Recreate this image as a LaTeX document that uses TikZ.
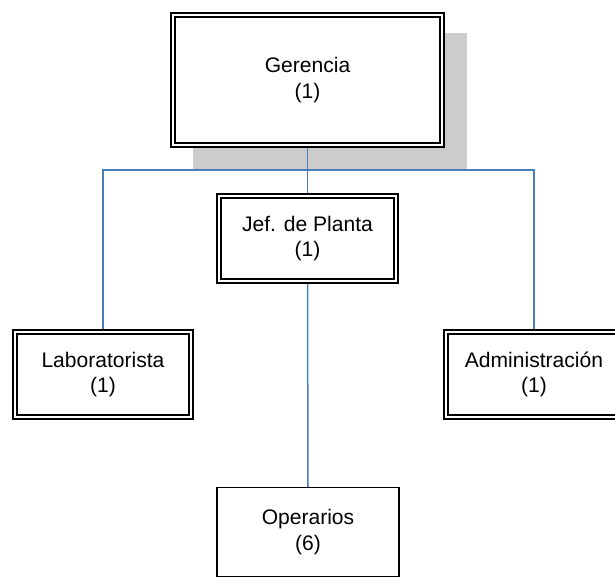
\documentclass[tikz,border=0pt]{standalone}
\usepackage{fontspec}
\setmainfont{Liberation Sans}
\begin{document}
\begin{tikzpicture}[x=0.75pt,y=-0.75pt]
    \definecolor{linkblue}{HTML}{4A7EBB}
    \definecolor{shadegray}{HTML}{CCCCCC}
    \def\px{0.75pt}
    \tikzset{
      post/.style={draw, fill=white, line width=2*\px, align=center, inner sep=0pt,
        font=\fontsize{15.8}{19}\selectfont, minimum width=#1*\px, minimum height=89*\px},
      link/.style={draw=linkblue, line width=1.5*\px}}
    \useasboundingbox (0,0) rectangle (615,576);
    \fill[shadegray] (193,33) rectangle (467,169);
    \node[post=273, minimum height=134*\px] (ger) at (307.5,80) {Gerencia\\(1)};
    \node[post=181] (jef) at (307.5,238.5) {Jef. de Planta\\(1)};
    \node[post=180] (lab) at (103,374.5) {Laboratorista\\(1)};
    \node[post=180] (adm) at (534,374.5) {Administración\\(1)};
    \node[post=182, line width=1.5*\px] (ope) at (308,532) {Operarios\\(6)};
    \foreach \n in {ger,jef,lab,adm}
      \draw[line width=1.2*\px] ([shift={(5,5)}]\n.north west) rectangle ([shift={(-5,-5)}]\n.south east);
    \coordinate (bus) at (307,170);
    \draw[link] (ger.south) -- (jef.north);
    \draw[link] (lab.north) |- (bus) -| (adm.north);
    \draw[link] (jef.south) -- (ope.north);
\end{tikzpicture}
\end{document}
